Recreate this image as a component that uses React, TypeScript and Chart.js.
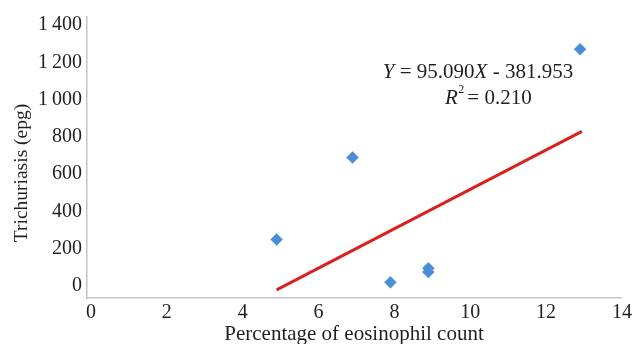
import React, { useEffect, useRef } from "react";
import { Chart, registerables } from "chart.js";

Chart.register(...registerables);

// Data
const xValues = [5, 7, 8, 9, 9, 13];
const yValues = [250, 690, 20, 95, 75, 1270];
const trendX = [5, 13.05];
const trendY = [-20, 830];
const xTickValues = [0, 2, 4, 6, 8, 10, 12, 14];
const yTickValues = [0, 200, 400, 600, 800, 1000, 1200, 1400];
const xTitle = "Percentage of eosinophil count";
const yTitle = "Trichuriasis (epg)";
const slopeText = "95.090";
const interceptText = "381.953";
const r2Text = "0.210";

const FONT = '"Liberation Serif", "Times New Roman", serif';
const TEXT = "#231f20";

function fmtY(v: number): string {
  const s = String(v);
  return v >= 1000 ? s.replace(/(\d)(\d{3})$/, "$1\u2009$2") : s;
}

const annotationPlugin = {
  id: "annotations",
  afterDraw(chart: any) {
    const ctx: CanvasRenderingContext2D = chart.ctx;
    const area = chart.chartArea;
    ctx.save();
    ctx.fillStyle = TEXT;
    ctx.textBaseline = "middle";
    ctx.textAlign = "left";

    // equation line
    const it = `italic 21px ${FONT}`;
    const rg = `21px ${FONT}`;
    const segs: [string, string][] = [
      ["Y", it],
      [" = " + slopeText, rg],
      ["X", it],
      [" - " + interceptText, rg],
    ];
    let total = 0;
    for (const [t, f] of segs) {
      ctx.font = f;
      total += ctx.measureText(t).width;
    }
    let x = 478 - total / 2;
    const y1 = 72;
    for (const [t, f] of segs) {
      ctx.font = f;
      ctx.fillText(t, x, y1);
      x += ctx.measureText(t).width;
    }

    // R^2 line
    let x2 = 445;
    const y2 = 98;
    ctx.font = it;
    ctx.fillText("R", x2, y2);
    x2 += ctx.measureText("R").width;
    ctx.font = `12px ${FONT}`;
    ctx.fillText("2", x2 + 0.5, y2 - 8);
    x2 += ctx.measureText("2").width + 3.5;
    ctx.font = rg;
    ctx.fillText("= " + r2Text, x2, y2);

    // axis titles
    ctx.font = `21px ${FONT}`;
    ctx.textAlign = "center";
    ctx.textBaseline = "alphabetic";
    ctx.fillText(xTitle, (area.left + area.right) / 2, 340);

    ctx.save();
    ctx.translate(27, 173);
    ctx.rotate(-Math.PI / 2);
    ctx.font = `19.5px ${FONT}`;
    ctx.textBaseline = "alphabetic";
    ctx.fillText(yTitle, 0, 0);
    ctx.restore();

    ctx.restore();
  },
};

export default function App() {
  const ref = useRef<HTMLCanvasElement | null>(null);

  useEffect(() => {
    if (!ref.current) return;
    const points = xValues.map((x, i) => ({ x, y: yValues[i] }));
    const trend = trendX.map((x, i) => ({ x, y: trendY[i] }));
    const chart = new Chart(ref.current, {
      type: "scatter",
      data: {
        datasets: [
          {
            label: "Trendline",
            data: trend,
            showLine: true,
            borderColor: "#d9211f",
            borderWidth: 3,
            pointRadius: 0,
            pointHoverRadius: 0,
            order: 1,
          },
          {
            label: "Cases",
            data: points,
            pointStyle: "rectRot",
            pointRadius: 6,
            pointHoverRadius: 6,
            backgroundColor: "#4b8ed3",
            borderColor: "#4b8ed3",
            borderWidth: 0.5,
            order: 2,
          },
        ],
      },
      plugins: [annotationPlugin],
      options: {
        responsive: false,
        animation: false,
        layout: { padding: { top: 13, right: 11, left: 0, bottom: 0 } },
        plugins: {
          legend: { display: false },
          tooltip: { enabled: false },
          title: { display: false },
        },
        scales: {
          x: {
            type: "linear",
            min: 0,
            max: 14.08,
            afterBuildTicks: (scale: any) => {
              scale.ticks = xTickValues.map((v) => ({ value: v }));
            },
            afterFit: (scale: any) => {
              scale.height = 46;
            },
            grid: { display: false, drawTicks: false },
            border: { display: true, color: "#c4c4c4", width: 1.5 },
            ticks: {
              font: { family: FONT, size: 20 },
              color: TEXT,
              padding: 3,
              labelOffset: 4,
              maxRotation: 0,
              autoSkip: false,
              callback: (v: any) => String(v),
            },
          },
          y: {
            type: "linear",
            min: -64,
            max: 1443,
            afterBuildTicks: (scale: any) => {
              scale.ticks = yTickValues.map((v) => ({ value: v }));
            },
            afterFit: (scale: any) => {
              scale.width = 87;
            },
            grid: { display: false, drawTicks: false },
            border: { display: true, color: "#c4c4c4", width: 1.5 },
            ticks: {
              font: { family: FONT, size: 20 },
              color: TEXT,
              padding: 5,
              autoSkip: false,
              callback: (v: any) => fmtY(Number(v)),
            },
          },
        },
      },
    } as any);
    return () => chart.destroy();
  }, []);

  return (
    <div style={{ position: "absolute", left: 0, top: 0, width: 632, height: 344, background: "#fff" }}>
      <canvas ref={ref} width={632} height={344} />
    </div>
  );
}
